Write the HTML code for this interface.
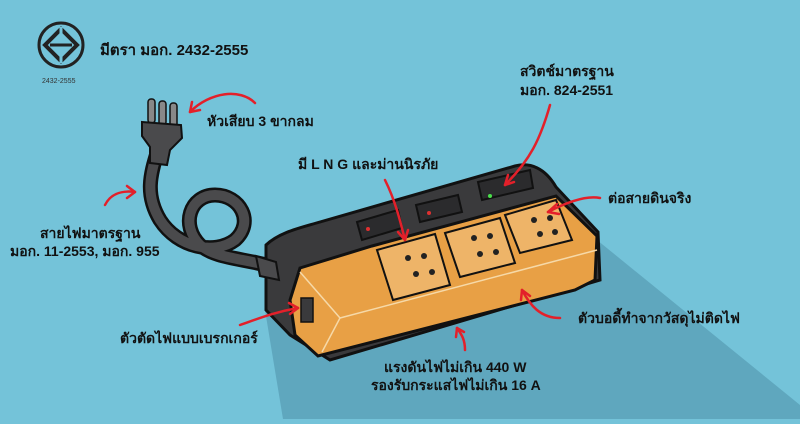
<!DOCTYPE html>
<html><head><meta charset="utf-8"><style>
html,body{margin:0;padding:0}
body{width:800px;height:419px;overflow:hidden;background:#74c3d9}
svg text{font-family:"Liberation Sans","Noto Sans CJK SC",sans-serif;font-weight:bold;fill:#111}
</style></head><body>
<svg width="800" height="419" viewBox="0 0 800 419" xmlns="http://www.w3.org/2000/svg">
<!-- shadow -->
<polygon points="265,310 597,240 800,405 800,419 283,419" fill="#5fa7be"/>
<!-- logo -->
<circle cx="61" cy="45" r="22" fill="none" stroke="#222" stroke-width="3"/>
<path d="M61,29 L77,45 L61,61 L45,45 Z" fill="none" stroke="#222" stroke-width="4"/>
<line x1="61" y1="27" x2="61" y2="63" stroke="#74c3d9" stroke-width="3"/>
<line x1="50" y1="45" x2="72" y2="45" stroke="#222" stroke-width="3"/>
<text x="42" y="83" style="font-weight:normal;font-size:7px;fill:#333">2432-2555</text>
<text x="100" y="55" font-size="15">มีตรา มอก. 2432-2555</text>
<!-- cord -->
<path d="M158,150 C150,175 145,195 160,220 C178,248 215,255 235,240 C255,222 240,195 215,195 C190,195 180,225 200,245 C215,258 240,258 270,266" fill="none" stroke="#111" stroke-width="15" stroke-linecap="round"/>
<path d="M158,150 C150,175 145,195 160,220 C178,248 215,255 235,240 C255,222 240,195 215,195 C190,195 180,225 200,245 C215,258 240,258 270,266" fill="none" stroke="#4a4a4c" stroke-width="10" stroke-linecap="round"/>
<!-- plug -->
<rect x="148" y="99" width="7" height="24" rx="3" fill="#888" stroke="#111" stroke-width="1.5"/>
<rect x="159" y="101" width="7" height="24" rx="3" fill="#888" stroke="#111" stroke-width="1.5"/>
<rect x="170" y="103" width="7" height="24" rx="3" fill="#888" stroke="#111" stroke-width="1.5"/>
<path d="M142,122 L181,125 L182,138 L170,150 L167,165 L150,163 L150,147 L142,136 Z" fill="#4a4a4c" stroke="#111" stroke-width="2"/>
<!-- strip black housing -->
<path d="M266,245 C280,232 300,228 320,222 L515,166 C530,162 545,168 556,187 L598,232 L600,280 L330,360 L290,335 L266,310 Z" fill="#3a3a3c" stroke="#111" stroke-width="3"/>
<!-- switches -->
<path d="M357,222 L398,210 L402,228 L362,240 Z" fill="#2b2b2d" stroke="#111" stroke-width="2"/>
<circle cx="368" cy="229" r="2" fill="#e03030"/>
<path d="M416,205 L458,195 L462,212 L420,222 Z" fill="#2b2b2d" stroke="#111" stroke-width="2"/>
<circle cx="429" cy="213" r="2" fill="#e03030"/>
<path d="M478,182 L530,170 L533,188 L482,200 Z" fill="#2b2b2d" stroke="#111" stroke-width="2"/>
<circle cx="490" cy="196" r="2" fill="#4ae04a"/>
<!-- orange body -->
<path d="M300,268 L372,246 L556,196 L597,236 L595,280 L575,290 L318,356 L295,335 L290,300 Z" fill="#e8a045" stroke="#111" stroke-width="3"/>
<path d="M340,318 L597,250" stroke="#f6d9a8" stroke-width="1.5" fill="none"/>
<path d="M300,272 L340,318 L322,352" stroke="#f6d9a8" stroke-width="1.5" fill="none"/>
<!-- outlets -->
<path d="M377,250 L435,234 L450,285 L393,300 Z" fill="#eeb468" stroke="#111" stroke-width="2"/>
<path d="M445,233 L500,218 L515,263 L460,277 Z" fill="#eeb468" stroke="#111" stroke-width="2"/>
<path d="M505,215 L556,200 L572,240 L520,253 Z" fill="#eeb468" stroke="#111" stroke-width="2"/>
<g fill="#222">
<circle cx="408" cy="258" r="3"/><circle cx="424" cy="256" r="3"/><circle cx="416" cy="274" r="3"/><circle cx="432" cy="272" r="3"/>
<circle cx="474" cy="238" r="3"/><circle cx="490" cy="236" r="3"/><circle cx="480" cy="254" r="3"/><circle cx="496" cy="252" r="3"/>
<circle cx="534" cy="220" r="3"/><circle cx="550" cy="218" r="3"/><circle cx="540" cy="234" r="3"/><circle cx="555" cy="232" r="3"/>
</g>
<!-- breaker -->
<rect x="301" y="298" width="12" height="24" fill="#3a3a3c" stroke="#111" stroke-width="1.5"/>
<!-- plug into strip -->
<path d="M256,256 L276,262 L279,280 L260,276 Z" fill="#4a4a4c" stroke="#111" stroke-width="2"/>
<!-- red arrows -->
<g fill="none" stroke="#e3202a" stroke-width="2.5" stroke-linecap="round">
<path d="M255,103 C240,88 210,92 190,112"/><path d="M190,112 L200,110 M190,112 L192,102"/>
<path d="M105,205 C110,195 120,190 135,192"/><path d="M135,192 L127,186 M135,192 L127,198"/>
<path d="M385,180 C395,200 400,220 405,240"/><path d="M405,240 L398,232 M405,240 L408,230"/>
<path d="M550,105 C540,140 530,160 505,185"/><path d="M505,185 L508,175 M505,185 L514,182"/>
<path d="M600,198 C590,196 575,198 548,212"/><path d="M548,212 L557,204 M548,212 L559,214"/>
<path d="M560,318 C540,318 530,305 522,290"/><path d="M522,290 L521,300 M522,290 L530,296"/>
<path d="M465,350 C465,340 462,335 457,328"/><path d="M457,328 L456,337 M457,328 L464,332"/>
<path d="M240,325 C260,318 275,312 298,308"/><path d="M298,308 L289,303 M298,308 L290,314"/>
</g>
<!-- labels -->
<text x="207" y="126" font-size="14">หัวเสียบ 3 ขากลม</text>
<text x="520" y="76" font-size="14">สวิตช์มาตรฐาน</text>
<text x="520" y="95" font-size="14">มอก. 824-2551</text>
<text x="298" y="169" font-size="14">มี L N G และม่านนิรภัย</text>
<text x="608" y="203" font-size="14">ต่อสายดินจริง</text>
<text x="40" y="238" font-size="14">สายไฟมาตรฐาน</text>
<text x="10" y="256" font-size="14">มอก. 11-2553, มอก. 955</text>
<text x="578" y="323" font-size="14">ตัวบอดี้ทำจากวัสดุไม่ติดไฟ</text>
<text x="120" y="343" font-size="14">ตัวตัดไฟแบบเบรกเกอร์</text>
<text x="384" y="372" font-size="14">แรงดันไฟไม่เกิน 440 W</text>
<text x="371" y="390" font-size="14">รองรับกระแสไฟไม่เกิน 16 A</text>
</svg>
</body></html>
